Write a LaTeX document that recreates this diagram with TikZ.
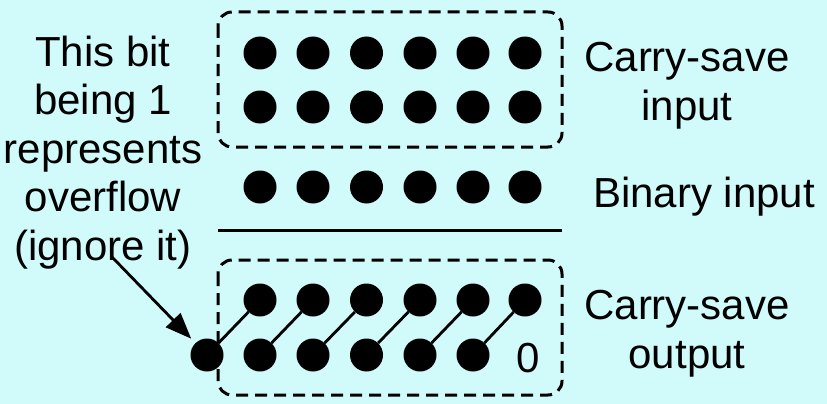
\documentclass[tikz,border=0pt]{standalone}
\usepackage{fontspec}
\setmainfont{Liberation Sans}
\usetikzlibrary{arrows.meta}
\definecolor{bg}{RGB}{209,250,250}
\begin{document}
\begin{tikzpicture}[x=1pt,y=-1pt,
  bit/.style={circle,fill=black,inner sep=0pt,minimum size=33pt},
  grp/.style={draw,line width=3pt,rounded corners=14pt,dash pattern=on 12pt off 7pt},
  lbl/.style={font=\fontsize{42}{48.5}\selectfont,align=center,inner sep=0pt,anchor=base},
  carry/.style={line width=2.8pt},
  rule/.style={line width=3pt}]
\fill[bg] (0,0) rectangle (827,404);
\useasboundingbox (0,0) rectangle (827,404);

% groups of bits
\draw[grp] (218,12) rectangle (562,147);
\draw[grp] (218,260) rectangle (562,395);

% carry-save input (two rows) and binary input
\foreach \i/\x in {1/260,2/313,3/366.5,4/420,5/473,6/525} {
  \node[bit] (a\i) at (\x,53) {};
  \node[bit] (b\i) at (\x,107) {};
  \node[bit] (c\i) at (\x,187) {};
}

% adder separator
\coordinate (rl) at (218,230);
\coordinate (rr) at (562,230);
\draw[rule] (rl) -- (rr);

% carry-save output: sum row and shifted carry row
\foreach \i/\x in {1/260,2/313,3/366.5,4/420,5/473,6/525}
  \node[bit] (s\i) at (\x,300) {};
\foreach \i/\x in {0/207,1/260,2/313,3/366.5,4/420,5/473}
  \node[bit] (t\i) at (\x,355) {};
\node[lbl] (zero) at (528,372) {0};

% carry pairs
\foreach \i [evaluate=\i as \j using int(\i-1)] in {1,...,6}
  \draw[carry] (t\j) -- (s\i);

% labels (multi-line nodes sit on the baseline of their last line)
\node[lbl] (note) at (103,260) {This bit\\being 1\\represents\\overflow\\(ignore it)};
\node[lbl] (csin) at (687,120) {Carry-save\\input};
\node[lbl] (binin) at (704,207) {Binary input};
\node[lbl] (csout) at (687,368) {Carry-save\\output};

% overflow pointer
\coordinate (ovf) at (112,257);
\draw[carry,-{Triangle[length=26pt,width=20pt]},shorten >=6pt] (ovf) -- (t0);
\end{tikzpicture}
\end{document}
